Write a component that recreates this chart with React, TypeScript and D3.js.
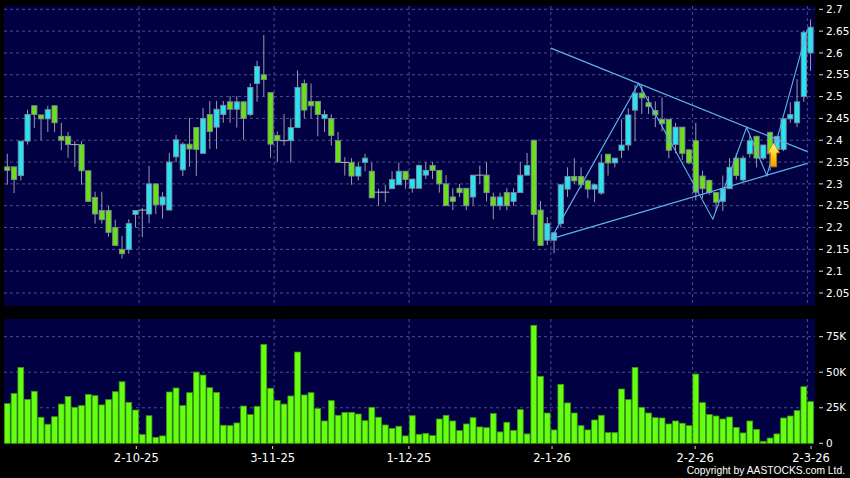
import React from "react";
import * as d3 from "d3";

// ---- Data ----
const opens = [2.339,2.339,2.319,2.398,2.479,2.458,2.449,2.479,2.409,2.409,2.39,2.39,2.33,2.269,2.239,2.239,2.2,2.15,2.15,2.23,2.24,2.231,2.3,2.252,2.24,2.362,2.332,2.391,2.429,2.37,2.459,2.43,2.459,2.488,2.471,2.488,2.459,2.53,2.55,2.509,2.411,2.399,2.399,2.429,2.53,2.489,2.489,2.45,2.45,2.399,2.349,2.349,2.318,2.349,2.329,2.281,2.281,2.289,2.298,2.329,2.29,2.29,2.32,2.342,2.331,2.3,2.27,2.29,2.29,2.27,2.32,2.32,2.27,2.25,2.28,2.26,2.28,2.32,2.4,2.24,2.171,2.171,2.209,2.288,2.317,2.317,2.307,2.288,2.279,2.368,2.348,2.377,2.389,2.469,2.508,2.486,2.468,2.448,2.448,2.39,2.43,2.378,2.399,2.318,2.308,2.28,2.26,2.289,2.359,2.309,2.369,2.409,2.359,2.418,2.379,2.379,2.449,2.44,2.5,2.6];
const highs = [2.369,2.339,2.398,2.47,2.479,2.458,2.479,2.48,2.44,2.419,2.398,2.398,2.33,2.282,2.282,2.25,2.218,2.181,2.219,2.239,2.245,2.341,2.3,2.281,2.371,2.412,2.395,2.451,2.429,2.474,2.49,2.49,2.49,2.501,2.501,2.488,2.53,2.582,2.641,2.509,2.42,2.46,2.45,2.56,2.539,2.53,2.489,2.469,2.459,2.419,2.361,2.359,2.349,2.369,2.349,2.289,2.298,2.329,2.349,2.329,2.311,2.345,2.35,2.35,2.331,2.32,2.29,2.3,2.29,2.32,2.342,2.35,2.28,2.28,2.29,2.29,2.35,2.371,2.4,2.261,2.224,2.19,2.3,2.338,2.359,2.338,2.31,2.3,2.368,2.368,2.359,2.448,2.473,2.527,2.527,2.5,2.489,2.498,2.448,2.44,2.43,2.38,2.44,2.33,2.31,2.28,2.319,2.359,2.37,2.365,2.41,2.41,2.39,2.42,2.41,2.45,2.487,2.54,2.65,2.677];
const lows = [2.298,2.279,2.308,2.39,2.428,2.4,2.419,2.419,2.377,2.36,2.339,2.298,2.26,2.209,2.209,2.179,2.159,2.129,2.14,2.2,2.178,2.21,2.231,2.22,2.24,2.35,2.318,2.339,2.318,2.37,2.38,2.38,2.44,2.44,2.429,2.401,2.455,2.488,2.5,2.36,2.35,2.388,2.349,2.429,2.45,2.45,2.409,2.419,2.388,2.349,2.319,2.298,2.308,2.329,2.268,2.25,2.258,2.289,2.298,2.289,2.28,2.29,2.311,2.311,2.28,2.25,2.24,2.27,2.24,2.25,2.3,2.26,2.219,2.24,2.24,2.25,2.28,2.32,2.169,2.159,2.16,2.141,2.2,2.27,2.3,2.29,2.267,2.258,2.275,2.319,2.338,2.359,2.377,2.398,2.46,2.46,2.43,2.42,2.359,2.37,2.355,2.345,2.262,2.267,2.275,2.238,2.238,2.289,2.31,2.305,2.36,2.338,2.355,2.33,2.37,2.375,2.44,2.43,2.488,2.559];
const closes = [2.331,2.31,2.398,2.459,2.459,2.449,2.47,2.44,2.4,2.39,2.39,2.33,2.26,2.231,2.218,2.189,2.159,2.14,2.209,2.239,2.24,2.3,2.252,2.27,2.35,2.401,2.391,2.38,2.379,2.45,2.42,2.471,2.48,2.471,2.488,2.45,2.521,2.569,2.539,2.391,2.399,2.399,2.429,2.521,2.469,2.479,2.459,2.459,2.411,2.349,2.349,2.318,2.339,2.359,2.268,2.281,2.281,2.31,2.329,2.31,2.311,2.342,2.331,2.331,2.3,2.25,2.26,2.28,2.25,2.32,2.32,2.28,2.25,2.27,2.25,2.28,2.32,2.342,2.23,2.159,2.209,2.188,2.298,2.317,2.307,2.298,2.288,2.298,2.348,2.348,2.359,2.389,2.458,2.508,2.497,2.477,2.458,2.438,2.377,2.43,2.37,2.348,2.281,2.289,2.28,2.258,2.289,2.338,2.319,2.359,2.399,2.359,2.389,2.369,2.409,2.449,2.459,2.488,2.647,2.659];
const volumesK = [27.9,35.1,53.4,30.9,36.6,18.3,13.4,18.7,27.6,33,25.3,26.5,34.4,33.5,27,30.7,36.3,43.3,28.8,23.4,6.1,19.4,4.2,5.2,36.1,38.9,26.5,35.6,50.1,48,39.1,35.8,12.7,12.4,14.3,26.2,20.2,26,69.6,38.7,30.2,27.6,33.3,64.2,34,35.6,24.4,15.7,30,19.7,21.6,21.8,20.6,15.9,25.3,18.3,12.9,10.5,12,5.2,19.4,6.3,7,5.4,17.1,19.7,15.7,8.9,13.6,18,11.5,11,20.9,8,14.8,9.1,23.7,6.6,83,47.1,21.3,9.4,41.5,28.4,21.3,12.4,9.4,16.4,19.7,7.5,7.5,38.2,30.7,53.4,25.3,21.3,18,17.8,13.6,15.7,14.1,12.4,48.7,28.6,20.2,19.2,17.1,18.5,11.2,7.3,15.7,9.8,1.4,3.7,6.6,17.8,19.2,23,39.8,29.3];

const dateTickIdx = [20, 40, 60, 81, 102, 119];
const dateTickLabels = ["2-10-25", "3-11-25", "1-12-25", "2-1-26", "2-2-26", "2-3-26"];
const priceTicks = [2.05, 2.1, 2.15, 2.2, 2.25, 2.3, 2.35, 2.4, 2.45, 2.5, 2.55, 2.6, 2.65, 2.7];
const volTicks = [0, 25, 50, 75];
const volTickLabels = ["0", "25K", "50K", "75K"];

// pattern lines (bar index, price)
const zigzagIdx = [81, 94, 105, 110, 113, 119];
const zigzagPx = [2.174, 2.53, 2.219, 2.429, 2.319, 2.654];
const upperLineIdx = [81, 119];
const upperLinePx = [2.611, 2.374];
const lowerLineIdx = [81, 119];
const lowerLinePx = [2.174, 2.347];
const arrowIdx = 114;
const arrowTipPx = 2.394;
const arrowBasePx = 2.339;

export default function App() {
  const W = 850, H = 478;
  const pL = 4, pR = 815, pT = 6, pB = 306;
  const vT = 319, vB = 443.3;
  const n = closes.length;
  const x = d3.scaleLinear().domain([0, n - 1]).range([7.3, 810.55]);
  const y = d3.scaleLinear().domain([2.05, 2.7]).range([293, 9.3]);
  const yv = d3.scaleLinear().domain([0, 75]).range([vB, 336.7]);
  const gx = (i: number) => x(i) - 3.2;
  const labelX = (i: number) => gx(i) * 1.0097 - 4.15;
  const fmt = (v: number) => String(+v.toFixed(2));

  const gridColor = "#4e4e8a";
  const lineColor = "#5fb2ee";
  const cyan = "#27e4f5";
  const green = "#6be01a";
  const outline = "#7d8a9a";

  const zig = d3.line<number>().x((d, k) => gx(zigzagIdx[k])).y((d) => y(d));
  const upper = d3.line<number>().x((d, k) => gx(upperLineIdx[k])).y((d) => y(d));
  const lower = d3.line<number>().x((d, k) => gx(lowerLineIdx[k])).y((d) => y(d));

  const ax = gx(arrowIdx);
  const at = y(arrowTipPx), ab = y(arrowBasePx);
  const ah = at + 10;
  const arrowPath = `M${ax},${at} L${ax + 6},${ah} L${ax + 3},${ah} L${ax + 3},${ab} L${ax - 3},${ab} L${ax - 3},${ah} L${ax - 6},${ah} Z`;

  return (
    <svg width={W} height={H} style={{ position: "absolute", left: 0, top: 0, background: "#000" }}
      fontFamily="DejaVu Sans, Verdana, sans-serif">
      <defs>
        <linearGradient id="arrowGrad" x1="0" y1="0" x2="0" y2="1">
          <stop offset="0" stopColor="#fff3a0" />
          <stop offset="0.5" stopColor="#ffd21a" />
          <stop offset="1" stopColor="#f49a00" />
        </linearGradient>
      </defs>
      <rect x={0} y={0} width={W} height={H} fill="#000" />
      {/* panels */}
      <rect x={pL} y={pT} width={pR - pL} height={pB - pT} fill="#000042" />
      <rect x={pL} y={vT} width={pR - pL} height={vB - vT} fill="#000042" />

      {/* price grid */}
      {priceTicks.map((t) => (
        <g key={"pt" + t}>
          <line x1={pL} x2={pR} y1={y(t)} y2={y(t)} stroke={gridColor} strokeDasharray="3,3" strokeWidth={1} />
          <line x1={819} x2={823} y1={y(t)} y2={y(t)} stroke="#ddd" strokeWidth={1} />
          <text x={826} y={y(t)} dy="0.35em" fill="#fff" fontSize={10.5}>{fmt(t)}</text>
        </g>
      ))}
      {dateTickIdx.map((i) => (
        <line key={"pv" + i} x1={gx(i)} x2={gx(i)} y1={pT} y2={pB} stroke={gridColor} strokeDasharray="3,3" />
      ))}

      {/* volume grid */}
      {volTicks.map((t, k) => (
        <g key={"vt" + t}>
          {t > 0 && <line x1={pL} x2={pR} y1={yv(t)} y2={yv(t)} stroke={gridColor} strokeDasharray="3,3" />}
          <line x1={819} x2={823} y1={yv(t)} y2={yv(t)} stroke="#ddd" strokeWidth={1} />
          <text x={826} y={yv(t)} dy="0.35em" fill="#fff" fontSize={10.5}>{volTickLabels[k]}</text>
        </g>
      ))}
      {dateTickIdx.map((i) => (
        <line key={"vv" + i} x1={gx(i)} x2={gx(i)} y1={vT} y2={vB} stroke={gridColor} strokeDasharray="3,3" />
      ))}

      {/* volume bars */}
      {volumesK.map((v, i) => (
        <rect key={"v" + i} x={x(i) - 2.9} y={yv(v)} width={5.8} height={Math.max(0.5, vB - yv(v))}
          fill="#66ff11" stroke="#3a9a10" strokeWidth={0.8} />
      ))}

      {/* x axis ticks + labels */}
      {dateTickIdx.map((i, k) => (
        <g key={"xl" + i}>
          <line x1={labelX(i)} x2={labelX(i)} y1={446} y2={449} stroke="#ddd" />
          <text x={labelX(i)} y={457.5} dy="0.35em" textAnchor="middle" fill="#fff" fontSize={11.5}>{dateTickLabels[k]}</text>
        </g>
      ))}

      {/* candles */}
      {closes.map((c, i) => {
        const o = opens[i];
        const cx = x(i);
        const top = y(Math.max(o, c));
        const bot = y(Math.min(o, c));
        const doji = Math.abs(c - o) < 0.002;
        return (
          <g key={"c" + i}>
            <line x1={cx} x2={cx} y1={y(highs[i])} y2={y(lows[i])} stroke="#9a9ab0" strokeWidth={1} />
            {doji ? (
              <line x1={cx - 4} x2={cx + 4} y1={top} y2={top} stroke="#b0b0c0" strokeWidth={1} />
            ) : (
              <rect x={cx - 2.6} y={top} width={5.2} height={Math.max(1, bot - top)}
                fill={c > o ? cyan : green} stroke={outline} strokeWidth={0.9} />
            )}
          </g>
        );
      })}

      {/* pattern lines */}
      <path d={upper(upperLinePx) || ""} fill="none" stroke={lineColor} strokeWidth={1.2} />
      <path d={lower(lowerLinePx) || ""} fill="none" stroke={lineColor} strokeWidth={1.2} />
      <path d={zig(zigzagPx) || ""} fill="none" stroke={lineColor} strokeWidth={1.1} />

      {/* arrow */}
      <path d={arrowPath} fill="url(#arrowGrad)" stroke="#c77a00" strokeWidth={0.8} />

      <text x={845} y={470} dy="0.35em" textAnchor="end" fill="#fff" fontSize={10.3}
        fontFamily="Liberation Sans, Arial, sans-serif">Copyright by AASTOCKS.com Ltd.</text>
    </svg>
  );
}
